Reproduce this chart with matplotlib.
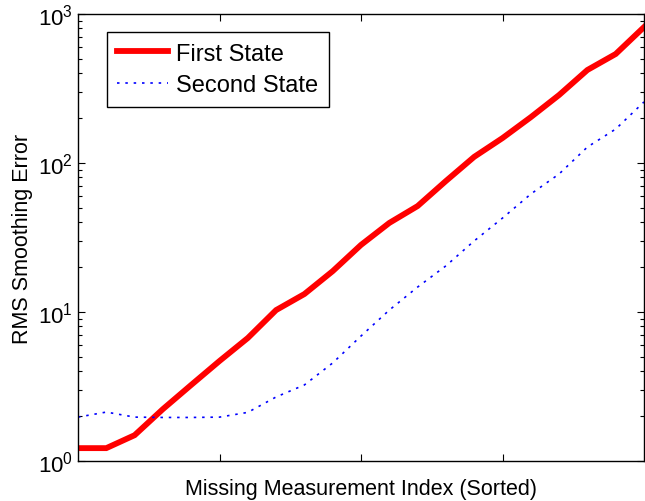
import matplotlib
matplotlib.use("Agg")
import matplotlib.pyplot as plt
from matplotlib.ticker import LogLocator, NullFormatter, FixedLocator

plt.rcParams['font.family'] = ['Liberation Sans', 'DejaVu Sans']

index = list(range(21))
first_state = [1.22, 1.22, 1.49, 2.23, 3.24, 4.69, 6.69, 10.3, 13.2, 18.8, 28.2,
               39.6, 51.4, 75.7, 110, 147, 203, 286, 421, 539, 817]
second_state = [1.97, 2.13, 1.97, 1.96, 1.96, 1.97, 2.12, 2.69, 3.24, 4.55, 6.90,
                10.3, 14.7, 20.4, 30.0, 42.7, 61.9, 84.4, 128, 169, 257]
xticks = [5, 10, 15]

fig = plt.figure(figsize=(6.45, 5.02), dpi=100)
ax = fig.add_axes([78/645, 40/502, 566/645, 447/502])

ax.plot(index, first_state, color='#ff0000', lw=4.2, solid_joinstyle='miter', label='First State')
ax.plot(index, second_state, color='#0000ff', lw=1.2, linestyle=(0, (1.5, 3.5)), label='Second State')

ax.set_yscale('log')
ax.set_xlim(0, 20)
ax.set_ylim(1, 1000)
ax.xaxis.set_major_locator(FixedLocator(xticks))
ax.set_xticklabels([])
ax.yaxis.set_major_locator(LogLocator(base=10, numticks=10))
ax.yaxis.set_minor_locator(LogLocator(base=10, subs=range(2, 10), numticks=10))
ax.yaxis.set_minor_formatter(NullFormatter())
ax.tick_params(which='both', direction='in', top=True, right=True, width=0.8)
ax.tick_params(which='major', length=5, labelsize=16)
ax.tick_params(which='minor', length=3)
for s in ax.spines.values():
    s.set_linewidth(1.0)

ax.set_xlabel('Missing Measurement Index (Sorted)', fontsize=15.5, labelpad=9)
ax.set_ylabel('RMS Smoothing Error', fontsize=15.5, labelpad=4)

leg = ax.legend(loc='upper left', bbox_to_anchor=(0.051, 0.96), borderaxespad=0, fontsize=17,
                frameon=True, fancybox=False, edgecolor='black', framealpha=1,
                handlelength=2.15, borderpad=0.45, labelspacing=0.4, handletextpad=0.32)
leg.get_frame().set_linewidth(1.0)

fig.savefig('out.png', dpi=100)
